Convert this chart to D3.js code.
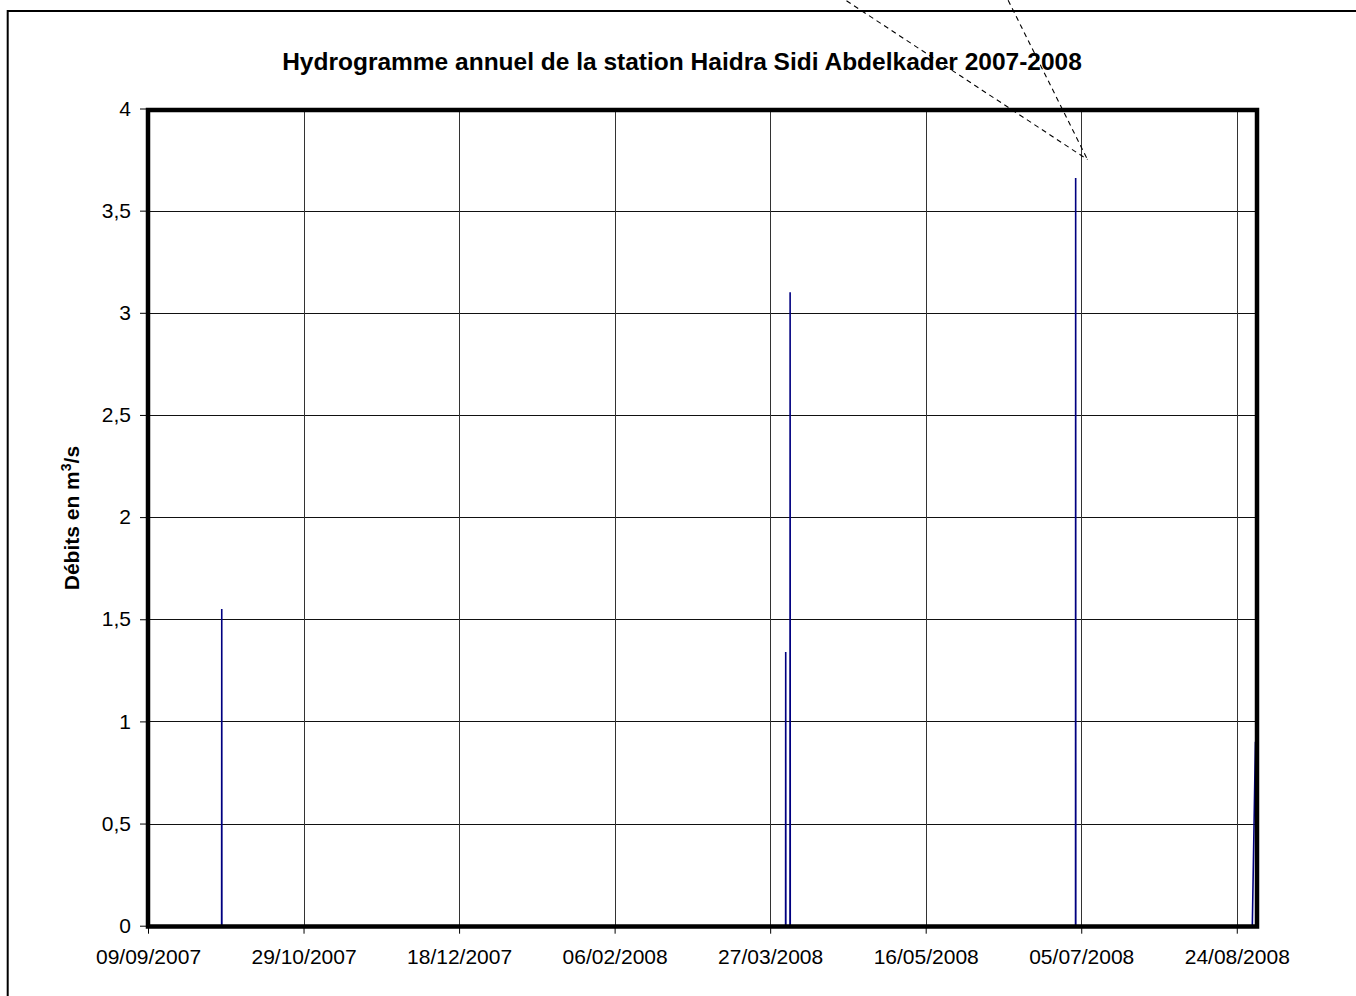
<!DOCTYPE html>
<html>
<head>
<meta charset="utf-8">
<script src="https://cdnjs.cloudflare.com/ajax/libs/d3/7.8.5/d3.min.js"></script>
<style>
  html, body { margin: 0; padding: 0; background: #fff; }
  svg { display: block; }
  text { font-family: "Liberation Sans", Arial, sans-serif; fill: #000; }
</style>
</head>
<body>
<svg id="chart" width="1356" height="996"></svg>
<script>
// ---- data ----
const chartTitle = "Hydrogramme annuel de la station Haidra Sidi Abdelkader 2007-2008";
const yLabelMain = "Débits en m";
const yLabelSup = "3";
const yLabelEnd = "/s";

const flowTimes = [
  "2007-09-09T00:00",
  "2007-10-02T16:00", "2007-10-02T17:00", "2007-10-02T18:00",
  "2008-03-31T23:00", "2008-04-01T00:00", "2008-04-01T01:00",
  "2008-04-02T09:00", "2008-04-02T10:00", "2008-04-02T11:00",
  "2008-07-03T04:00", "2008-07-03T05:00", "2008-07-03T06:00",
  "2008-08-29T00:00", "2008-08-30T00:00"
];
const flowValues = [
  0,
  0, 1.55, 0,
  0, 1.34, 0,
  0, 3.10, 0,
  0, 3.66, 0,
  0, 0.9
];

const xTickLabels = ["09/09/2007", "29/10/2007", "18/12/2007", "06/02/2008",
                     "27/03/2008", "16/05/2008", "05/07/2008", "24/08/2008"];
const yTickValues = [0, 0.5, 1, 1.5, 2, 2.5, 3, 3.5, 4];

const xDomain = ["2007-09-09T00:00", "2008-08-30T12:00"];
const yDomain = [0, 4];

// callout dashed lines (start point, end point) in data coordinates
const calloutStarts = [["2008-04-13T07:00", 4.6], ["2008-06-11T12:00", 4.53]];
const calloutEnd = ["2008-07-07T00:00", 3.75];

// ---- drawing ----
const parseT = d3.timeParse("%Y-%m-%dT%H:%M");
const parseD = d3.timeParse("%d/%m/%Y");
const fmtComma = v => String(v).replace(".", ",");

const svg = d3.select("#chart");

// outer chart-area border
svg.append("rect")
  .attr("x", 7.7).attr("y", 11)
  .attr("width", 1400).attr("height", 1100)
  .attr("fill", "none").attr("stroke", "#000").attr("stroke-width", 2);

const x = d3.scaleTime()
  .domain(xDomain.map(parseT))
  .range([148, 1257]);
const y = d3.scaleLinear()
  .domain(yDomain)
  .range([925.7, 108.5]);

const x0 = x.range()[0], x1 = x.range()[1];
const yb = y(0), yt = y(4);

// title
svg.append("text")
  .attr("x", 682).attr("y", 70)
  .attr("text-anchor", "middle")
  .style("font-weight", "bold").style("font-size", "24.5px")
  .text(chartTitle);

// grid lines
const gGrid = svg.append("g").attr("shape-rendering", "crispEdges");
gGrid.selectAll("line.h").data(yTickValues.filter(v => v > 0 && v < 4))
  .enter().append("line")
  .attr("x1", x0).attr("x2", x1)
  .attr("y1", d => Math.round(y(d)) + 0.5).attr("y2", d => Math.round(y(d)) + 0.5)
  .attr("stroke", "#111").attr("stroke-width", 1);
gGrid.selectAll("line.v").data(xTickLabels.slice(1).map(parseD))
  .enter().append("line")
  .attr("x1", d => Math.round(x(d)) + 0.5).attr("x2", d => Math.round(x(d)) + 0.5)
  .attr("y1", yt).attr("y2", yb)
  .attr("stroke", "#333").attr("stroke-width", 1);

// data line
const line = d3.line()
  .x((d, i) => x(parseT(flowTimes[i])))
  .y(d => y(d));
svg.append("path")
  .datum(flowValues)
  .attr("d", line)
  .attr("fill", "none")
  .attr("stroke", "#000080")
  .attr("stroke-width", 1.6);

// plot frame
svg.append("rect")
  .attr("x", x0).attr("y", yt + 1.5)
  .attr("width", x1 - x0).attr("height", yb - yt - 1.5 + 0.8)
  .attr("fill", "none").attr("stroke", "#000").attr("stroke-width", 4.5);

// y axis
const yAxis = d3.axisLeft(y)
  .tickValues(yTickValues)
  .tickSize(7)
  .tickPadding(9)
  .tickFormat(fmtComma);
const gy = svg.append("g").attr("transform", `translate(${x0 - 1},0)`).call(yAxis);
gy.select(".domain").remove();
gy.selectAll(".tick line").attr("stroke", "#000");
gy.selectAll(".tick text")
  .style("font-size", "21px")
  .style("font-family", "Liberation Sans, Arial, sans-serif")
  .attr("fill", "#000");

// x axis
const xAxis = d3.axisBottom(x)
  .tickValues(xTickLabels.map(parseD))
  .tickSize(7)
  .tickPadding(15)
  .tickFormat((d, i) => xTickLabels[i]);
const gx = svg.append("g").attr("transform", `translate(0,${yb + 1})`).call(xAxis);
gx.select(".domain").remove();
gx.selectAll(".tick line").attr("stroke", "#000");
gx.selectAll(".tick text")
  .style("font-size", "21px")
  .style("font-family", "Liberation Sans, Arial, sans-serif")
  .attr("fill", "#000");

// y label
const yl = svg.append("text")
  .attr("transform", `translate(78.5,${(yt + yb) / 2 + 1}) rotate(-90)`)
  .attr("text-anchor", "middle")
  .style("font-weight", "bold").style("font-size", "21px");
yl.append("tspan").text(yLabelMain);
yl.append("tspan").attr("dy", -8).style("font-size", "14px").text(yLabelSup);
yl.append("tspan").attr("dy", 8).text(yLabelEnd);

// callout dashed lines
calloutStarts.forEach(s => {
  svg.append("line")
    .attr("x1", x(parseT(s[0]))).attr("y1", y(s[1]))
    .attr("x2", x(parseT(calloutEnd[0]))).attr("y2", y(calloutEnd[1]))
    .attr("stroke", "#000").attr("stroke-width", 1.1)
    .attr("stroke-dasharray", "5,4");
});
</script>
</body>
</html>
